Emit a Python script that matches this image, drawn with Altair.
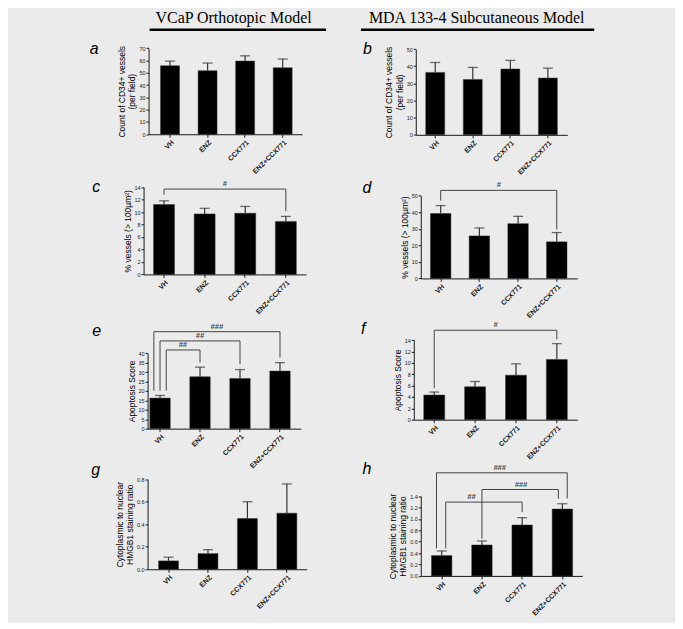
import altair as alt
import pandas as pd

# ---------------- data ----------------
groups = ["VH", "ENZ", "CCX771", "ENZ+CCX771"]

a_mean = [55.7, 51.7, 59.5, 54.1]
a_upper = [59.5, 57.9, 63.8, 61.2]
b_mean = [36.4, 32.3, 38.4, 33.1]
b_upper = [42.2, 39.3, 43.4, 38.9]
c_mean = [11.2, 9.7, 9.8, 8.5]
c_upper = [11.8, 10.6, 10.9, 9.3]
d_mean = [39.2, 25.7, 33.1, 22.1]
d_upper = [44.0, 30.5, 37.5, 27.7]
e_mean = [16.2, 27.5, 26.6, 30.5]
e_upper = [17.6, 32.6, 31.3, 35.0]
f_mean = [4.34, 5.8, 7.85, 10.59]
f_upper = [4.87, 6.73, 9.84, 13.4]
g_mean = [0.074, 0.139, 0.45, 0.498]
g_upper = [0.107, 0.174, 0.60, 0.758]
h_mean = [0.357, 0.543, 0.893, 1.173]
h_upper = [0.438, 0.613, 1.022, 1.267]

# significance brackets (positions in group-index units, heights in data units)
c_br_from, c_br_to = [0.0], [3.0]
c_br_level, c_br_lb, c_br_rb = [13.68], [12.79], [10.12]
c_br_text, c_br_tx = ["#"], [1.5]

d_br_from, d_br_to = [0.0], [3.0]
d_br_level, d_br_lb, d_br_rb = [53.2], [47.0], [29.5]
d_br_text, d_br_tx = ["#"], [1.5]

e_br_from, e_br_to = [0.155, 0.0, -0.155], [1.0, 2.0, 3.0]
e_br_level, e_br_lb, e_br_rb = [41.7, 46.5, 51.4], [20.1, 20.1, 20.1], [35.0, 34.2, 37.7]
e_br_text, e_br_tx = ["##", "##", "###"], [0.57, 1.0, 1.42]

f_br_from, f_br_to = [0.0], [3.0]
f_br_level, f_br_lb, f_br_rb = [15.76], [5.57], [14.17]
f_br_text, f_br_tx = ["#"], [1.5]

h_br_from, h_br_to = [0.1, 1.0, -0.13], [2.0, 2.9, 3.12]
h_br_level, h_br_lb, h_br_rb = [1.295, 1.517, 1.81], [0.48, 0.655, 0.48], [1.12, 1.355, 1.36]
h_br_text, h_br_tx = ["##", "###", "###"], [0.74, 1.97, 1.44]

# ---------------- style / layout ----------------
FONT = "Liberation Sans"
SERIF = "Liberation Serif"
BG = "#ebebeb"
INK = "#1a1a1a"

COLW = [337, 330]
ROWH = [152, 140, 145, 176]


def cell_of(col, row):
    return (8 + sum(COLW[:col]), 8 + sum(ROWH[:row]), COLW[col], ROWH[row])


def text_layer(txt, x, y, cell, size, style="normal", weight="normal", font=FONT, align="left"):
    cx, cy, _, _ = cell
    return alt.Chart(pd.DataFrame({"t": [txt]})).mark_text(
        align=align, baseline="alphabetic", fontSize=size, fontStyle=style,
        fontWeight=weight, font=font, color="#000"
    ).encode(text="t:N", x=alt.value(x - cx), y=alt.value(y - cy))


def hline_layer(xa, xb, y, cell, width=2.5):
    cx, cy, _, _ = cell
    return alt.Chart(pd.DataFrame({"k": [0]})).mark_rule(color="#000", strokeWidth=width).encode(
        x=alt.value(xa - cx), x2=alt.value(xb - cx), y=alt.value(y - cy)
    )


def make_panel(letter, letter_xy, mean, upper, ymax, ystep, yfmt, ytitle, lay, cell,
               br=None, extra=None):
    cx, cy, cw, ch = cell
    x0, x1, c0, s, bw, yb, yt = lay
    n = len(groups)
    pin = 1 - bw / s
    W = x1 - x0
    pout = (W / s - n + pin) / 2
    al = (c0 - bw / 2 - x0) / (2 * pout * s)
    lx0, lx1 = x0 - cx, x1 - cx
    ly0, ly1 = yb - cy, yt - cy

    xband = alt.Scale(domain=groups, range=[lx0, lx1], paddingInner=pin,
                      paddingOuter=pout, align=al)
    xlin = alt.Scale(domain=[(x0 - c0) / s, (x1 - c0) / s], range=[lx0, lx1],
                     zero=False, nice=False)
    ysc = alt.Scale(domain=[0, ymax], range=[ly0, ly1], zero=False, nice=False)

    nt = int(round(ymax / ystep))
    yvals = [round(i * ystep, 4) for i in range(nt + 1)]

    yaxis = alt.Axis(values=yvals, format=yfmt, title=ytitle, offset=-lx0, grid=False,
                     tickSize=2.5, labelFontSize=5.5, labelPadding=1, titleFontSize=8.5,
                     titleLineHeight=10.5, titlePadding=2, labelOverlap=False,
                     labelFont=FONT, titleFont=FONT, titleFontWeight="normal",
                     domainColor=INK, tickColor=INK, labelColor=INK, titleColor="#000")
    xaxis = alt.Axis(title=None, labelAngle=-45, offset=-(ch - ly0), grid=False,
                     tickSize=3, labelFontSize=7, labelFontWeight="bold", labelPadding=1,
                     labelOverlap=False, labelFont=FONT, domainColor=INK, tickColor=INK,
                     labelColor=INK)

    df = pd.DataFrame({"group": groups, "mean": mean, "upper": upper})
    xenc = alt.X("group:N", sort=groups, scale=xband, axis=xaxis)
    xenc_na = alt.X("group:N", sort=groups, scale=xband, axis=None)

    bars = alt.Chart(df).mark_bar(color="#000", stroke="#333", strokeWidth=0.5).encode(
        x=xenc, y=alt.Y("mean:Q", scale=ysc, axis=yaxis))
    err = alt.Chart(df).mark_rule(color="#333", strokeWidth=1.2).encode(
        x=xenc_na, y=alt.Y("mean:Q", scale=ysc, axis=None), y2="upper:Q")
    cap = alt.Chart(df).mark_tick(color="#333", thickness=1.3, size=10).encode(
        x=xenc_na, y=alt.Y("upper:Q", scale=ysc, axis=None))

    layers = [bars, err, cap]

    if br is not None:
        bf, bt, lev, lb, rb, txt, tx = br
        rows = []
        for i in range(len(bf)):
            rows.append({"xa": bf[i], "xb": bt[i], "ya": lev[i], "yb": lev[i]})
            rows.append({"xa": bf[i], "xb": bf[i], "ya": lb[i], "yb": lev[i]})
            rows.append({"xa": bt[i], "xb": bt[i], "ya": rb[i], "yb": lev[i]})
        seg = pd.DataFrame(rows)
        layers.append(alt.Chart(seg).mark_rule(color="#444", strokeWidth=1).encode(
            x=alt.X("xa:Q", scale=xlin, axis=None), x2="xb:Q",
            y=alt.Y("ya:Q", scale=ysc, axis=None), y2="yb:Q"))
        lab = pd.DataFrame({"tx": tx, "lev": lev, "txt": txt})
        layers.append(alt.Chart(lab).mark_text(
            baseline="bottom", dy=-1, fontSize=7.5, fontStyle="italic", fontWeight="bold",
            color="#444", font=FONT).encode(
            x=alt.X("tx:Q", scale=xlin, axis=None),
            y=alt.Y("lev:Q", scale=ysc, axis=None), text="txt:N"))

    layers.append(text_layer(letter, letter_xy[0], letter_xy[1], cell, 16, style="italic"))
    if extra:
        layers.extend(extra)

    return alt.layer(*layers).resolve_scale(x="independent", y="independent").properties(
        width=cw, height=ch)


cA, cB = cell_of(0, 0), cell_of(1, 0)
cC, cD = cell_of(0, 1), cell_of(1, 1)
cE, cF = cell_of(0, 2), cell_of(1, 2)
cG, cH = cell_of(0, 3), cell_of(1, 3)

vessels_title = ["Count of CD34+ vessels", "(per field)"]
pct_title = "% vessels (> 100µm²)"
apo_title = "Apoptosis Score"
hmgb_title = ["Cytoplasmic to nuclear", "HMGB1 staining ratio"]

pa = make_panel("a", (89, 52), a_mean, a_upper, 70, 10, "d", vessels_title,
                (148, 302, 169.5, 37.67, 19, 132.7, 46.4), cA,
                extra=[text_layer("VCaP Orthotopic Model", 155, 21, cA, 16, font=SERIF),
                       hline_layer(149, 326, 28, cA)])
pb = make_panel("b", (363, 52.3), b_mean, b_upper, 50, 10, "d", vessels_title,
                (416, 568, 435.5, 37.67, 19, 133.3, 47.3), cB,
                extra=[text_layer("MDA 133-4 Subcutaneous Model", 369, 21, cB, 16, font=SERIF),
                       hline_layer(361, 595, 28, cB)])
pc = make_panel("c", (91.5, 190.7), c_mean, c_upper, 14, 2, "d", pct_title,
                (143, 306, 163.5, 40.73, 21, 273.3, 185.7), cC,
                br=(c_br_from, c_br_to, c_br_level, c_br_lb, c_br_rb, c_br_text, c_br_tx))
pd_ = make_panel("d", (362.5, 191.7), d_mean, d_upper, 50, 10, "d", pct_title,
                 (421, 578, 441, 38.8, 20.5, 277.3, 194.3), cD,
                 br=(d_br_from, d_br_to, d_br_level, d_br_lb, d_br_rb, d_br_text, d_br_tx))
pe = make_panel("e", (91.5, 335), e_mean, e_upper, 40, 5, "d", apo_title,
                (147, 300.7, 159.5, 40.1, 20.5, 428, 352.3), cE,
                br=(e_br_from, e_br_to, e_br_level, e_br_lb, e_br_rb, e_br_text, e_br_tx))
pf = make_panel("f", (361, 333.3), f_mean, f_upper, 14, 2, "d", apo_title,
                (414, 578, 434.5, 41, 21, 419, 339.3), cF,
                br=(f_br_from, f_br_to, f_br_level, f_br_lb, f_br_rb, f_br_text, f_br_tx))
pg = make_panel("g", (90.5, 474.5), g_mean, g_upper, 0.8, 0.2, ".1f", hmgb_title,
                (147, 306.7, 168, 39.57, 20, 569, 478.7), cG)
ph = make_panel("h", (362.5, 473.3), h_mean, h_upper, 1.4, 0.2, ".1f", hmgb_title,
                (421, 583, 442, 40.35, 20.5, 575.7, 495.7), cH,
                br=(h_br_from, h_br_to, h_br_level, h_br_lb, h_br_rb, h_br_text, h_br_tx))

chart = alt.concat(pa, pb, pc, pd_, pe, pf, pg, ph, columns=2, spacing=0, bounds="flush").properties(
    padding=0, background=BG
).configure_view(fill="transparent", stroke="transparent")

chart.save("out.html", embed_options={"renderer": "svg", "actions": False})
